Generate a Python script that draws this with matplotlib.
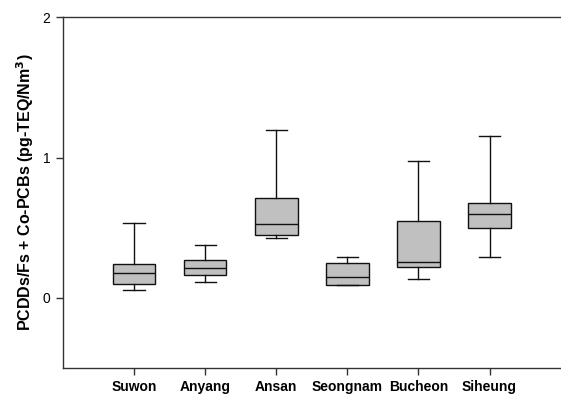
import matplotlib
matplotlib.use("Agg")
import matplotlib.pyplot as plt

plt.rcParams["font.family"] = ["Liberation Sans", "DejaVu Sans"]

sites = ["Suwon", "Anyang", "Ansan", "Seongnam", "Bucheon", "Siheung"]
whisker_low = [0.055, 0.109, 0.428, 0.088, 0.136, 0.288]
q1 = [0.098, 0.159, 0.445, 0.088, 0.216, 0.495]
median = [0.178, 0.212, 0.528, 0.147, 0.257, 0.595]
q3 = [0.240, 0.269, 0.711, 0.245, 0.547, 0.675]
whisker_high = [0.530, 0.376, 1.199, 0.293, 0.973, 1.151]

stats = []
for name, lo, a, m, b, hi in zip(sites, whisker_low, q1, median, q3, whisker_high):
    stats.append({"label": name, "whislo": lo, "q1": a, "med": m, "q3": b,
                  "whishi": hi, "fliers": []})

fig = plt.figure(figsize=(5.61, 3.94), dpi=100)
ax = fig.add_axes([0.1123, 0.0668, 0.887, 0.889])

positions = list(range(1, len(sites) + 1))
ax.bxp(stats, positions=positions, widths=0.6, patch_artist=True,
       showfliers=False,
       boxprops=dict(facecolor="#c0c0c0", edgecolor="#111111", linewidth=1.0),
       medianprops=dict(color="#111111", linewidth=1.0),
       whiskerprops=dict(color="#111111", linewidth=1.0),
       capprops=dict(color="#111111", linewidth=1.0),
       capwidths=0.3)

ax.set_xlim(0, 7)
ax.set_ylim(-0.5, 2)
ax.set_yticks([0, 1, 2])
ax.set_yticklabels(["0", "1", "2"], fontsize=10)
ax.set_xticks(positions)
ax.set_xticklabels(sites, fontsize=10, fontweight="bold")
ax.tick_params(axis="both", direction="out", length=5, width=1.0, color="#333333")
ax.tick_params(axis="x", pad=4)
ax.tick_params(axis="y", pad=4)

for side in ["left", "bottom", "top"]:
    ax.spines[side].set_linewidth(1.0)
    ax.spines[side].set_color("#333333")
ax.spines["right"].set_visible(False)

ax.set_ylabel("PCDDs/Fs + Co-PCBs (pg-TEQ/Nm$^\\mathbf{3}$)", fontsize=11.5,
              fontweight="bold", labelpad=5)

fig.savefig("out.png", dpi=100)
